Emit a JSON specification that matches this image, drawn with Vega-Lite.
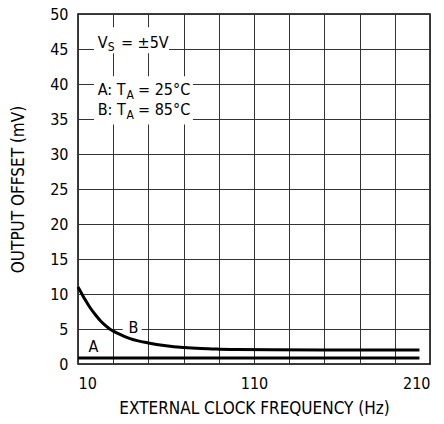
{
  "$schema": "https://vega.github.io/schema/vega-lite/v6.json",
  "width": 352,
  "height": 350,
  "autosize": "none",
  "padding": {"left": 78, "top": 14, "right": 14, "bottom": 60},
  "background": "white",
  "config": {
    "font": "DejaVu Sans Condensed",
    "view": {"stroke": "black", "strokeWidth": 1.5},
    "axis": {
      "grid": true,
      "gridColor": "#333333",
      "gridWidth": 1,
      "gridOpacity": 1,
      "domain": false,
      "ticks": false,
      "labelOverlap": false,
      "labelFont": "DejaVu Sans Condensed",
      "labelFontSize": 16,
      "labelColor": "black",
      "titleFont": "DejaVu Sans Condensed",
      "titleFontSize": 17,
      "titleFontWeight": "normal",
      "titleColor": "black"
    }
  },
  "datasets": {
    "curves": [
      {"curve": "A", "x": 10, "y": 0.85},
      {"curve": "A", "x": 204, "y": 0.85},
      {"curve": "B", "x": 10, "y": 11.0},
      {"curve": "B", "x": 12, "y": 10.1},
      {"curve": "B", "x": 14, "y": 9.2},
      {"curve": "B", "x": 17, "y": 8.0},
      {"curve": "B", "x": 20, "y": 7.0},
      {"curve": "B", "x": 23, "y": 6.1},
      {"curve": "B", "x": 26, "y": 5.4},
      {"curve": "B", "x": 28, "y": 5.0},
      {"curve": "B", "x": 30, "y": 4.7},
      {"curve": "B", "x": 35, "y": 4.1},
      {"curve": "B", "x": 40, "y": 3.6},
      {"curve": "B", "x": 50, "y": 3.0},
      {"curve": "B", "x": 60, "y": 2.6},
      {"curve": "B", "x": 70, "y": 2.35},
      {"curve": "B", "x": 80, "y": 2.2},
      {"curve": "B", "x": 90, "y": 2.12},
      {"curve": "B", "x": 100, "y": 2.07},
      {"curve": "B", "x": 120, "y": 2.03},
      {"curve": "B", "x": 150, "y": 2.0},
      {"curve": "B", "x": 204, "y": 2.0}
    ],
    "boxes": [
      {"x": 19.1, "x2": 61.7, "y": 44.4, "y2": 48.1},
      {"x": 19.1, "x2": 75.3, "y": 34.2, "y2": 41.1},
      {"x": 35.4, "x2": 46.2, "y": 4.5, "y2": 5.5}
    ],
    "texts": [
      {"t": "V", "x": 21.2, "y": 45.17},
      {"t": "= ±5V", "x": 34.4, "y": 45.17},
      {"t": "A: T", "x": 21.2, "y": 38.36},
      {"t": "= 25°C", "x": 44.1, "y": 38.36},
      {"t": "B: T", "x": 21.2, "y": 35.54},
      {"t": "= 85°C", "x": 44.1, "y": 35.54}
    ],
    "subs": [
      {"t": "S", "x": 26.9, "y": 44.7},
      {"t": "A", "x": 37.6, "y": 37.8},
      {"t": "A", "x": 37.6, "y": 35.0}
    ],
    "curvelabels": [
      {"t": "A", "x": 18.8, "y": 1.69},
      {"t": "B", "x": 41.5, "y": 4.36}
    ]
  },
  "encoding": {
    "x": {"field": "x", "type": "quantitative",
      "scale": {"domain": [10, 210], "nice": false, "zero": false},
      "axis": {
        "values": [10, 30, 50, 70, 90, 110, 130, 150, 170, 190, 210],
        "labelExpr": "datum.value % 100 == 10 ? datum.label : ''",
        "labelPadding": 11,
        "title": "EXTERNAL CLOCK FREQUENCY (Hz)",
        "titlePadding": 9
      }},
    "y": {"field": "y", "type": "quantitative",
      "scale": {"domain": [0, 50], "nice": false},
      "axis": {
        "values": [0, 5, 10, 15, 20, 25, 30, 35, 40, 45, 50],
        "labelPadding": 10,
        "title": "OUTPUT OFFSET (mV)",
        "titlePadding": 22
      }}
  },
  "layer": [
    {
      "data": {"name": "boxes"},
      "mark": {"type": "rect", "fill": "white", "stroke": null},
      "encoding": {
        "x2": {"field": "x2"},
        "y2": {"field": "y2"}
      }
    },
    {
      "data": {"name": "curves"},
      "mark": {"type": "line", "color": "black", "strokeWidth": 3, "interpolate": "monotone"},
      "encoding": {
        "detail": {"field": "curve"}
      }
    },
    {
      "data": {"name": "texts"},
      "mark": {"type": "text", "align": "left", "baseline": "alphabetic", "fontSize": 16, "color": "black"},
      "encoding": {
        "text": {"field": "t"}
      }
    },
    {
      "data": {"name": "subs"},
      "mark": {"type": "text", "align": "left", "baseline": "alphabetic", "fontSize": 12, "color": "black"},
      "encoding": {
        "text": {"field": "t"}
      }
    },
    {
      "data": {"name": "curvelabels"},
      "mark": {"type": "text", "align": "center", "baseline": "alphabetic", "fontSize": 16, "color": "black"},
      "encoding": {
        "text": {"field": "t"}
      }
    }
  ]
}
